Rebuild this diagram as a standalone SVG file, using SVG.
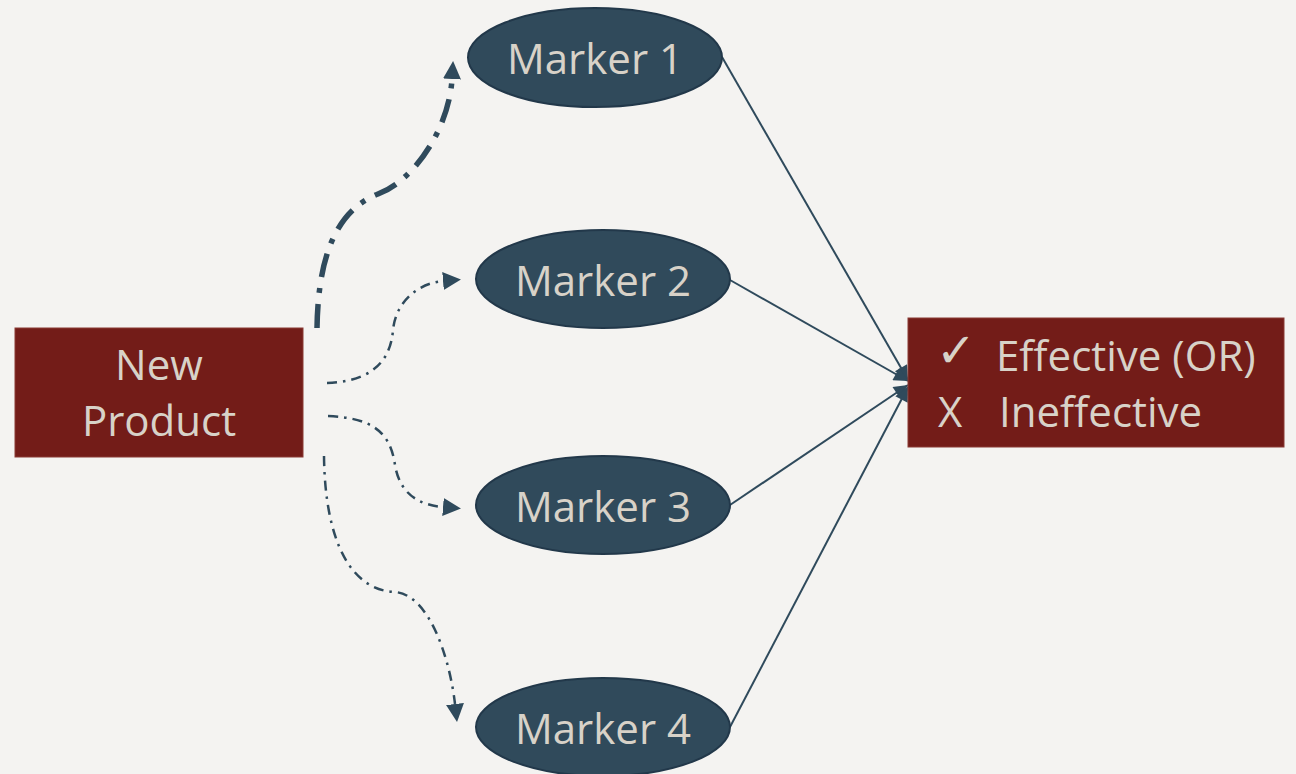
<svg xmlns="http://www.w3.org/2000/svg" width="1296" height="774" viewBox="0 0 1296 774">
<defs>
<style>
.box{fill:#731c18;stroke:#8a3a35;stroke-width:1}
.ell{fill:#304a5b;stroke:#22384a;stroke-width:2}
.lbl{font-family:"Open Sans","Liberation Sans",sans-serif;font-size:42px;fill:#d8d2c8;text-anchor:middle}
.lbl2{font-family:"Open Sans","Liberation Sans",sans-serif;font-size:42px;fill:#d8d2c8}
.solid{fill:none;stroke:#2f4a5c;stroke-width:2}
.thick{fill:none;stroke:#2f4a5c;stroke-width:5.5;stroke-dasharray:24 11 5 11}
.thin{fill:none;stroke:#2f4a5c;stroke-width:2.5;stroke-dasharray:10 6 2.5 6}
</style>
<marker id="ah" viewBox="0 0 10 10" refX="0" refY="5" markerUnits="userSpaceOnUse" markerWidth="18" markerHeight="18" orient="auto">
<path d="M0,0 L10,5 L0,10 Z" fill="#2f4a5c"/>
</marker>
<marker id="ahs" viewBox="0 0 10 10" refX="10" refY="5" markerUnits="userSpaceOnUse" markerWidth="16" markerHeight="14" orient="auto">
<path d="M0,0 L10,5 L0,10 Z" fill="#2f4a5c"/>
</marker>
</defs>
<rect width="1296" height="774" fill="#f4f3f1"/>
<g id="connectors">
<path class="solid" d="M722,57 L908,380" marker-end="url(#ahs)"/>
<path class="solid" d="M730,280 L908,381" marker-end="url(#ahs)"/>
<path class="solid" d="M730,505 L908,385" marker-end="url(#ahs)"/>
<path class="solid" d="M730,727 L908,387" marker-end="url(#ahs)"/>
<path class="thick" d="M317,328 C318,265 332,212 378,194 C415,180 449,128 452,79" marker-end="url(#ah)"/>
<path class="thin" d="M327,383 C360,382 390,370 393,330 C396,300 420,283 443,281" marker-end="url(#ah)"/>
<path class="thin" d="M328,416 C370,418 390,430 395,465 C400,495 420,505 443,507" marker-end="url(#ah)"/>
<path class="thin" d="M324,456 C325,540 350,590 395,592 C430,595 450,660 455,704" marker-end="url(#ah)"/>
</g>
<g id="new-product">
<rect class="box" x="15" y="328" width="288" height="129"/>
<text class="lbl" x="159" y="380">New</text>
<text class="lbl" x="159" y="436">Product</text>
</g>
<g id="marker-1">
<ellipse class="ell" cx="595" cy="57.5" rx="127" ry="49.5"/>
<text class="lbl" x="595" y="74">Marker 1</text>
</g>
<g id="marker-2">
<ellipse class="ell" cx="603" cy="279" rx="127" ry="49"/>
<text class="lbl" x="603" y="296">Marker 2</text>
</g>
<g id="marker-3">
<ellipse class="ell" cx="603" cy="505" rx="127" ry="49"/>
<text class="lbl" x="603" y="522">Marker 3</text>
</g>
<g id="marker-4">
<ellipse class="ell" cx="603" cy="727" rx="127" ry="49"/>
<text class="lbl" x="603" y="744">Marker 4</text>
</g>
<g id="result">
<rect class="box" x="908" y="318" width="376" height="129"/>
<text class="lbl2" x="936" y="367" style="font-family:'DejaVu Sans',sans-serif;font-size:48px">✓</text>
<text class="lbl2" x="996" y="371">Effective (OR)</text>
<text class="lbl2" x="938" y="427">X</text>
<text class="lbl2" x="999" y="427">Ineffective</text>
</g>
</svg>
